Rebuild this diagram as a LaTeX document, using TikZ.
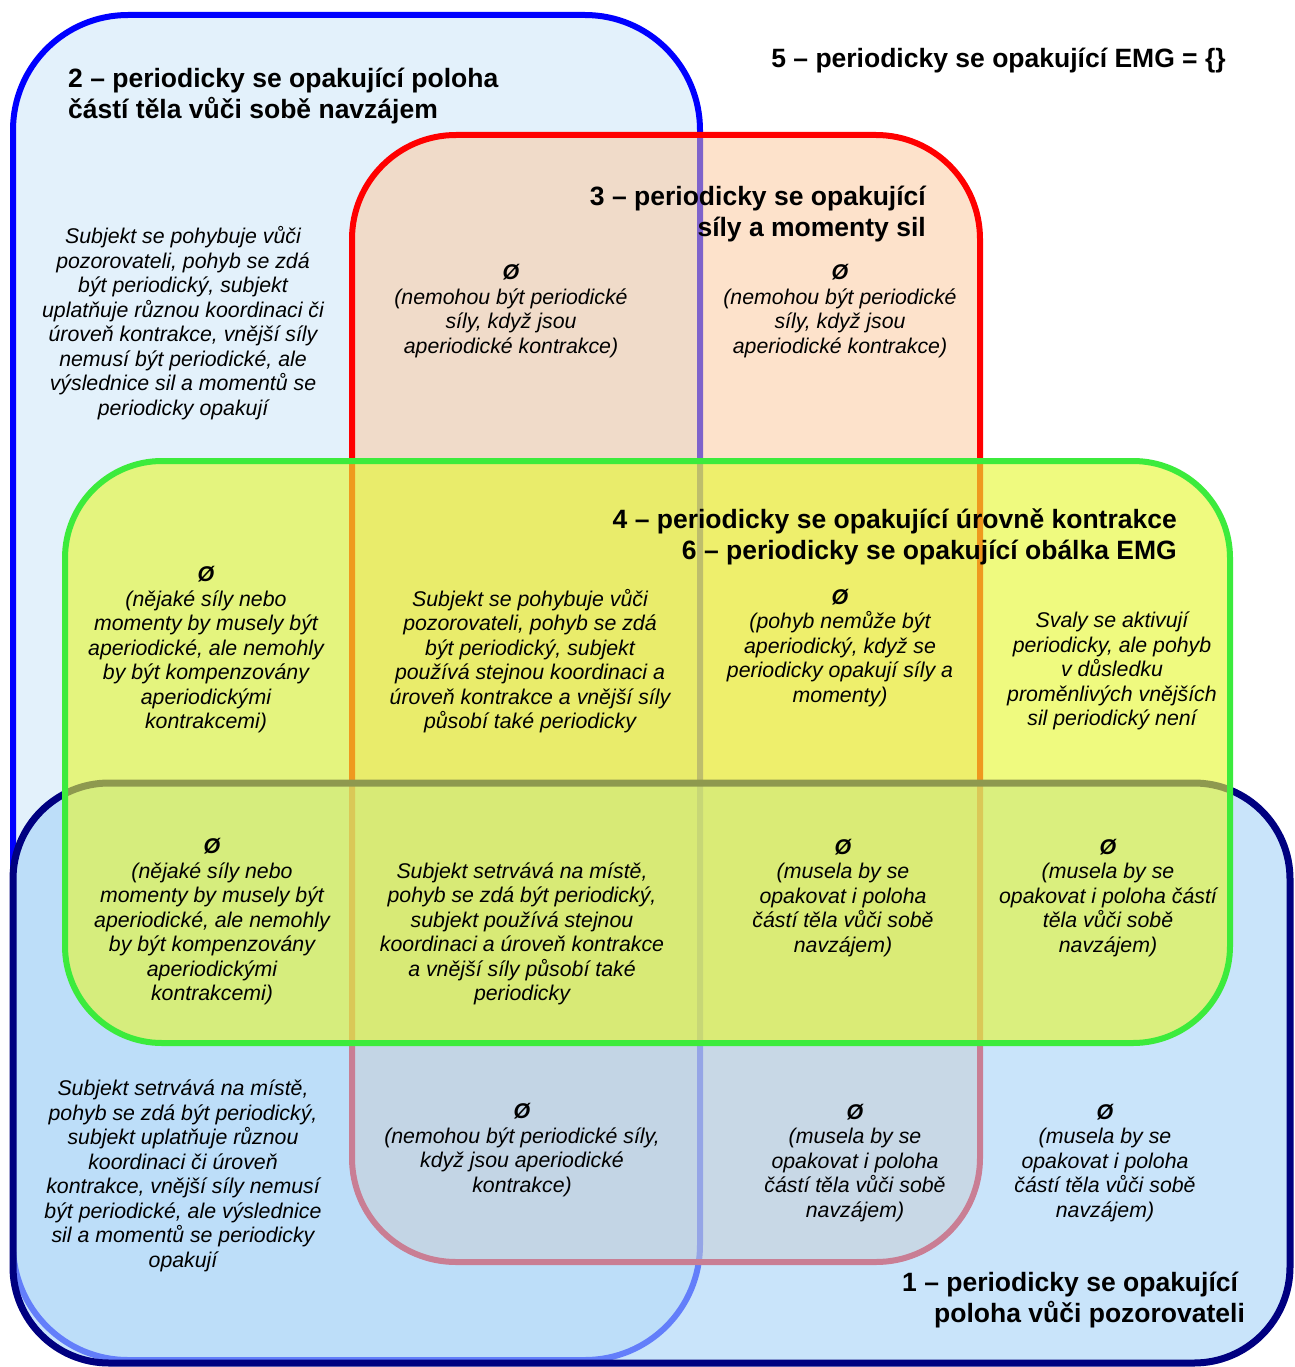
\documentclass[tikz,border=0pt]{standalone}
\usepackage{fontspec}
\setmainfont{Liberation Sans}
\definecolor{cTwoFill}{HTML}{E3F1FB}
\definecolor{cThreeFill}{HTML}{FDC799}
\definecolor{cOneFill}{HTML}{A5D2F8}
\definecolor{cFourFill}{HTML}{E6F732}
\definecolor{cBlue}{HTML}{0000FF}
\definecolor{cRed}{HTML}{FF0000}
\definecolor{cNavy}{HTML}{000080}
\definecolor{cGreen}{HTML}{3CEB3C}
\begin{document}
\begin{tikzpicture}[x=1pt,y=-1pt,
  body/.style={font=\fontsize{21.3}{24.5}\selectfont\itshape, align=center, inner sep=0pt},
  ttl/.style={font=\fontsize{26.5}{30.5}\selectfont\bfseries, inner sep=0pt},
  setbox/.style={line width=6pt}]
\useasboundingbox[fill=white] (0,0) rectangle (1294,1367);
% set 2
\draw[setbox, draw=cBlue, fill=cTwoFill, rounded corners=115pt] (13,15) rectangle (700,1360);
% set 3
\draw[setbox, draw=cRed, fill=cThreeFill, fill opacity=0.5, rounded corners=104pt] (352,135) rectangle (980,1262);
% set 1
\draw[setbox, line width=7pt, draw=cNavy, fill=cOneFill, fill opacity=0.6, rounded corners=96pt] (13,783) rectangle (1290,1363);
% set 4
\draw[setbox, draw=cGreen, fill=cFourFill, fill opacity=0.62, rounded corners=97pt] (65,461) rectangle (1230,1043);

% titles
\node[ttl, anchor=base] (t5) at (998.5,68) {5 – periodicky se opakující EMG = \{\}};
\node[ttl, align=left, anchor=west] (t2) at (68,96) {2 – periodicky se opakující poloha\\částí těla vůči sobě navzájem};
\node[ttl, align=right, anchor=east] (t3) at (926,214) {3 – periodicky se opakující\\síly a momenty sil};
\node[ttl, align=right, anchor=east] (t4) at (1177,537) {4 – periodicky se opakující úrovně kontrakce\\6 – periodicky se opakující obálka EMG};
\node[ttl, align=left, anchor=west] (t1) at (902,1300) {1 – periodicky se opakující\\\hspace*{32pt}poloha vůči pozorovateli};

% region texts
\node[body] (rA) at (183,323) {Subjekt se pohybuje vůči\\pozorovateli, pohyb se zdá\\být periodický, subjekt\\uplatňuje různou koordinaci či\\úroveň kontrakce, vnější síly\\nemusí být periodické, ale\\výslednice sil a momentů se\\periodicky opakují};
\node[body] (rB) at (511,311) {{\bfseries Ø}\\(nemohou být periodické\\síly, když jsou\\aperiodické kontrakce)};
\node[body] (rC) at (840,311) {{\bfseries Ø}\\(nemohou být periodické\\síly, když jsou\\aperiodické kontrakce)};
\node[body] (rD) at (206,650) {{\bfseries Ø}\\(nějaké síly nebo\\momenty by musely být\\aperiodické, ale nemohly\\by být kompenzovány\\aperiodickými\\kontrakcemi)};
\node[body] (rE) at (530,661) {Subjekt se pohybuje vůči\\pozorovateli, pohyb se zdá\\být periodický, subjekt\\používá stejnou koordinaci a\\úroveň kontrakce a vnější síly\\působí také periodicky};
\node[body] (rF) at (840,648) {{\bfseries Ø}\\(pohyb nemůže být\\aperiodický, když se\\periodicky opakují síly a\\momenty)};
\node[body] (rG) at (1112,671) {Svaly se aktivují\\periodicky, ale pohyb\\v důsledku\\proměnlivých vnějších\\sil periodický není};
\node[body] (rH) at (212,922) {{\bfseries Ø}\\(nějaké síly nebo\\momenty by musely být\\aperiodické, ale nemohly\\by být kompenzovány\\aperiodickými\\kontrakcemi)};
\node[body] (rI) at (522,934) {Subjekt setrvává na místě,\\pohyb se zdá být periodický,\\subjekt používá stejnou\\koordinaci a úroveň kontrakce\\a vnější síly působí také\\periodicky};
\node[body] (rJ) at (843,898) {{\bfseries Ø}\\(musela by se\\opakovat i poloha\\částí těla vůči sobě\\navzájem)};
\node[body] (rK) at (1108,898) {{\bfseries Ø}\\(musela by se\\opakovat i poloha částí\\těla vůči sobě\\navzájem)};
\node[body] (rL) at (183,1176) {Subjekt setrvává na místě,\\pohyb se zdá být periodický,\\subjekt uplatňuje různou\\koordinaci či úroveň\\kontrakce, vnější síly nemusí\\být periodické, ale výslednice\\sil a momentů se periodicky\\opakují};
\node[body] (rM) at (522,1150) {{\bfseries Ø}\\(nemohou být periodické síly,\\když jsou aperiodické\\kontrakce)};
\node[body] (rN) at (855,1163) {{\bfseries Ø}\\(musela by se\\opakovat i poloha\\částí těla vůči sobě\\navzájem)};
\node[body] (rO) at (1105,1163) {{\bfseries Ø}\\(musela by se\\opakovat i poloha\\částí těla vůči sobě\\navzájem)};
\end{tikzpicture}
\end{document}
